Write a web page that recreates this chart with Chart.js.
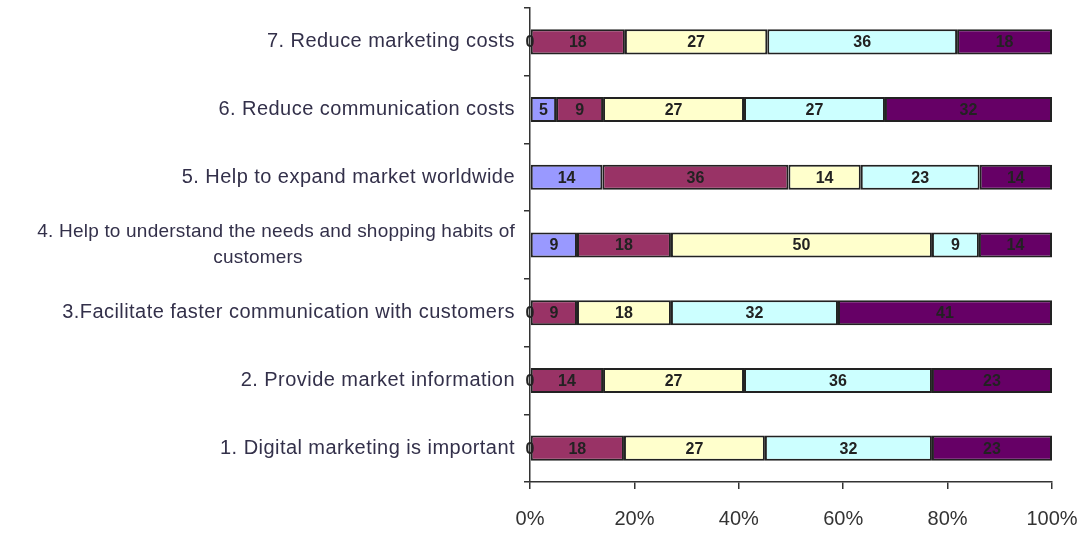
<!DOCTYPE html>
<html>
<head>
<meta charset="utf-8">
<script src="https://cdn.jsdelivr.net/npm/chart.js@4/dist/chart.umd.min.js"></script>
<style>
  body { margin: 0; background: #fff; }
  #wrap { width: 1089px; height: 533px; position: relative; }
</style>
</head>
<body>
<div id="wrap"><canvas id="barChart"></canvas></div>
<script>
// statements, top to bottom
let categories = [
  "7. Reduce marketing costs",
  "6. Reduce communication costs",
  "5. Help to expand market worldwide",
  ["4. Help to understand the needs and shopping habits of", "customers"],
  "3.Facilitate faster communication with customers",
  "2. Provide market information",
  "1. Digital marketing is important"
];

// answer shares (%) per statement, left to right
let series1 = [0, 5, 14, 9, 0, 0, 0];
let series2 = [18, 9, 36, 18, 9, 14, 18];
let series3 = [27, 27, 14, 50, 18, 27, 27];
let series4 = [36, 27, 23, 9, 32, 36, 32];
let series5 = [18, 32, 14, 14, 41, 23, 23];

let tickLabels = ["0%", "20%", "40%", "60%", "80%", "100%"];

let colors = ["#9999FF", "#993366", "#FFFFCC", "#CCFFFF", "#660066"];
let allSeries = [series1, series2, series3, series4, series5];

// 100% stacked: scale each row to its own total
let totals = categories.map((c, i) => allSeries.reduce((s, arr) => s + arr[i], 0));

let datasets = allSeries.map((arr, k) => ({
  label: "Series " + (k + 1),
  data: arr.map((v, i) => v / totals[i] * 100),
  raw: arr,
  backgroundColor: colors[k],
  borderColor: "#222",
  borderWidth: 2,
  borderSkipped: false,
  barPercentage: 0.37,
  categoryPercentage: 1
}));

// value labels inside the segments
let valueLabels = {
  id: "valueLabels",
  afterDatasetsDraw(chart) {
    let ctx = chart.ctx;
    ctx.save();
    ctx.font = "bold 16px 'Liberation Sans', Arial, sans-serif";
    ctx.fillStyle = "#222";
    ctx.textAlign = "center";
    ctx.textBaseline = "middle";
    chart.data.datasets.forEach((ds, k) => {
      let meta = chart.getDatasetMeta(k);
      meta.data.forEach((bar, i) => {
        let x = (bar.x + bar.base) / 2;
        ctx.fillText(String(ds.raw[i]), x, bar.y + 1);
      });
    });
    ctx.restore();
  }
};

// category labels: right aligned, wrapped line centred under the first
let categoryLabels = {
  id: "categoryLabels",
  afterDraw(chart) {
    let ctx = chart.ctx;
    let y = chart.scales.y;
    let right = y.right - 15;
    ctx.save();
    ctx.fillStyle = "#33304a";
    ctx.textBaseline = "middle";
    categories.forEach((lab, i) => {
      let py = y.getPixelForTick(i);
      if (Array.isArray(lab)) {
        ctx.font = "19px 'Liberation Sans', Arial, sans-serif";
        ctx.letterSpacing = "0.2px";
        ctx.textAlign = "right";
        ctx.fillText(lab[0], right, py - 13);
        ctx.textAlign = "center";
        ctx.fillText(lab[1], 258, py + 13);
      } else {
        ctx.font = "20px 'Liberation Sans', Arial, sans-serif";
        ctx.letterSpacing = "0.45px";
        ctx.textAlign = "right";
        ctx.fillText(lab, right, py);
      }
    });
    ctx.restore();
  }
};

let ctxB = document.getElementById("barChart").getContext("2d");
let myBarChart = new Chart(ctxB, {
  type: "bar",
  data: {
    labels: categories,
    datasets: datasets
  },
  options: {
    indexAxis: "y",
    responsive: true,
    maintainAspectRatio: false,
    animation: false,
    layout: {
      padding: { top: 8, right: 4, bottom: 4, left: 0 }
    },
    plugins: {
      legend: { display: false },
      tooltip: { enabled: false }
    },
    scales: {
      x: {
        stacked: true,
        min: 0,
        max: 100,
        border: { color: "#333", width: 1.5 },
        grid: { drawOnChartArea: false, tickLength: 7, color: "#333", lineWidth: 1.5 },
        ticks: {
          stepSize: 20,
          padding: 18,
          color: "#333",
          font: { size: 20, family: "'Liberation Sans', Arial, sans-serif" },
          callback: (v) => tickLabels[v / 20]
        },
        afterFit: (scale) => {
          scale.height = 47;
          scale.paddingRight = 37;
        }
      },
      y: {
        stacked: true,
        border: { color: "#333", width: 1.5 },
        grid: { drawOnChartArea: false, tickLength: 6, color: "#333", lineWidth: 1.5, offset: true },
        ticks: { display: false },
        afterFit: (scale) => { scale.width = 530; }
      }
    }
  },
  plugins: [valueLabels, categoryLabels]
});
</script>
</body>
</html>
